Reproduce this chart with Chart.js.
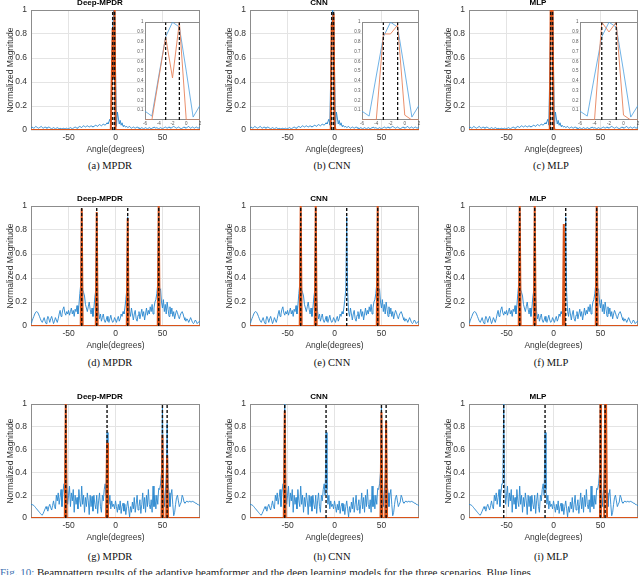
<!DOCTYPE html>
<html>
<head>
<meta charset="utf-8">
<script src="https://cdn.jsdelivr.net/npm/chart.js@4.4.1/dist/chart.umd.min.js"></script>
<style>
  html, body { margin: 0; padding: 0; background: #fff; }
  body { position: relative; width: 640px; height: 575px; overflow: hidden; }
  canvas { position: absolute; }
  .cap { position: absolute; width: 140px; margin-left: -70px; text-align: center;
         font: 10.5px "Liberation Serif", serif; color: #111; line-height: 12px; }
  .fig { position: absolute; left: 0; top: 566px; white-space: nowrap;
         font: 11px "Liberation Serif", serif; color: #222; }
  .fig b { color: #3b6fb0; font-weight: normal; }
</style>
</head>
<body>
<script>
// angle grid in degrees, shared by every beampattern
const angles = [];
for (let a = -90; a <= 90; a++) angles.push(a);

// blue curves (same in every column of a row), one value per degree, -90..90
const beamRow1 = [
  0.02, 0.025, 0.02, 0.015, 0.02, 0.03, 0.025, 0.02, 0.015, 0.02,
  0.025, 0.03, 0.02, 0.015, 0.02, 0.025, 0.02, 0.015, 0.02, 0.025,
  0.02, 0.015, 0.01, 0.015, 0.02, 0.015, 0.01, 0.015, 0.02, 0.015,
  0.01, 0.015, 0.01, 0.008, 0.012, 0.015, 0.01, 0.012, 0.015, 0.01,
  0.012, 0.015, 0.02, 0.015, 0.01, 0.015, 0.02, 0.025, 0.02, 0.015,
  0.02, 0.025, 0.03, 0.025, 0.02, 0.03, 0.035, 0.03, 0.025, 0.03,
  0.035, 0.03, 0.025, 0.03, 0.035, 0.03, 0.025, 0.03, 0.035, 0.04,
  0.035, 0.03, 0.04, 0.045, 0.04, 0.035, 0.04, 0.05, 0.045, 0.04,
  0.05, 0.06, 0.05, 0.07, 0.09, 0.04, 0.45, 0.85, 1.0, 0.95,
  0.5, 0.03, 0.15, 0.1, 0.05, 0.08, 0.04, 0.06, 0.03, 0.04,
  0.03, 0.025, 0.03, 0.02, 0.025, 0.03, 0.02, 0.015, 0.02, 0.025,
  0.02, 0.015, 0.02, 0.025, 0.02, 0.015, 0.01, 0.015, 0.02, 0.015,
  0.01, 0.015, 0.02, 0.015, 0.01, 0.015, 0.02, 0.015, 0.01, 0.015,
  0.02, 0.025, 0.02, 0.015, 0.02, 0.015, 0.01, 0.015, 0.02, 0.015,
  0.01, 0.015, 0.02, 0.025, 0.02, 0.015, 0.02, 0.025, 0.02, 0.015,
  0.02, 0.025, 0.03, 0.025, 0.02, 0.015, 0.02, 0.025, 0.02, 0.015,
  0.01, 0.015, 0.02, 0.025, 0.02, 0.015, 0.02, 0.025, 0.03, 0.02,
  0.015, 0.02, 0.025, 0.02, 0.015, 0.02, 0.025, 0.02, 0.015, 0.02, 0.025
];
const beamRow2 = [
  0.03, 0.04, 0.06, 0.08, 0.1, 0.115, 0.12, 0.115, 0.1, 0.08,
  0.06, 0.04, 0.03, 0.05, 0.07, 0.04, 0.02, 0.05, 0.08, 0.06,
  0.03, 0.06, 0.08, 0.05, 0.02, 0.04, 0.07, 0.05, 0.03, 0.06,
  0.1, 0.13, 0.08, 0.1, 0.14, 0.16, 0.11, 0.09, 0.12, 0.1,
  0.13, 0.09, 0.12, 0.15, 0.1, 0.13, 0.08, 0.14, 0.12, 0.17,
  0.1, 0.17, 0.27, 0.35, 0.95, 0.3, 0.28, 0.25, 0.18, 0.15,
  0.12, 0.16, 0.2, 0.14, 0.1, 0.15, 0.08, 0.15, 0.24, 0.3,
  0.92, 0.25, 0.12, 0.06, 0.1, 0.04, 0.07, 0.1, 0.05, 0.03,
  0.05, 0.08, 0.04, 0.03, 0.06, 0.09, 0.05, 0.03, 0.04, 0.07,
  0.05, 0.03, 0.06, 0.08, 0.04, 0.06, 0.1, 0.08, 0.12, 0.1,
  0.15, 0.22, 0.3, 0.91, 0.28, 0.12, 0.08, 0.15, 0.1, 0.05,
  0.1, 0.13, 0.06, 0.04, 0.09, 0.12, 0.06, 0.1, 0.14, 0.08,
  0.12, 0.05, 0.1, 0.15, 0.09, 0.13, 0.1, 0.16, 0.12, 0.18,
  0.1, 0.15, 0.2, 0.22, 0.27, 0.35, 1.0, 0.3, 0.31, 0.2,
  0.15, 0.22, 0.12, 0.18, 0.1, 0.2, 0.14, 0.08, 0.16, 0.1,
  0.15, 0.08, 0.12, 0.06, 0.1, 0.13, 0.11, 0.08, 0.06, 0.09,
  0.11, 0.12, 0.1, 0.07, 0.05, 0.04, 0.06, 0.05, 0.03, 0.05,
  0.07, 0.05, 0.03, 0.02, 0.03, 0.05, 0.04, 0.02, 0.03, 0.035, 0.04
];
const beamRow3 = [
  0.12, 0.12, 0.115, 0.11, 0.1, 0.09, 0.08, 0.07, 0.06, 0.05,
  0.04, 0.03, 0.025, 0.04, 0.06, 0.08, 0.1, 0.08, 0.06, 0.1,
  0.12, 0.09, 0.07, 0.11, 0.15, 0.1, 0.08, 0.2, 0.15, 0.22,
  0.12, 0.18, 0.25, 0.1, 0.22, 0.3, 0.3, 1.0, 0.3, 0.12,
  0.2, 0.28, 0.1, 0.22, 0.15, 0.25, 0.05, 0.2, 0.12, 0.18,
  0.08, 0.25, 0.15, 0.1, 0.28, 0.12, 0.2, 0.05, 0.18, 0.1,
  0.22, 0.15, 0.03, 0.2, 0.1, 0.19, 0.06, 0.2, 0.12, 0.08,
  0.2, 0.04, 0.15, 0.22, 0.1, 0.05, 0.2, 0.15, 0.25, 0.3,
  0.2, 0.75, 0.25, 0.12, 0.2, 0.08, 0.15, 0.1, 0.12, 0.08,
  0.15, 0.1, 0.05, 0.12, 0.07, 0.15, 0.04, 0.1, 0.13, 0.06,
  0.12, 0.03, 0.1, 0.15, 0.08, 0.01, 0.1, 0.05, 0.14, 0.08,
  0.18, 0.05, 0.12, 0.2, 0.07, 0.1, 0.16, 0.04, 0.12, 0.22,
  0.08, 0.18, 0.05, 0.2, 0.1, 0.25, 0.12, 0.08, 0.16, 0.05,
  0.28, 0.1, 0.2, 0.08, 0.2, 0.12, 0.26, 0.25, 0.3, 0.4,
  0.97, 0.3, 0.1, 0.2, 0.35, 0.83, 0.3, 0.22, 0.1, 0.2,
  0.25, 0.12, 0.02, 0.05, 0.12, 0.18, 0.2, 0.15, 0.1, 0.12,
  0.14, 0.2, 0.18, 0.14, 0.13, 0.14, 0.15, 0.14, 0.14, 0.15,
  0.14, 0.14, 0.15, 0.14, 0.14, 0.13, 0.13, 0.12, 0.12, 0.11, 0.11
];

// true source directions (black dashed)
const trueRow1 = [-3, -1];
const trueRow2 = [-36, -20, 13, 46];
const trueRow3 = [-53, -9, 50, 55];

// estimated spectra (orange), sparse angle / value pairs
const mpdr1X = [-90, -5, -3, -2, -1, 0, 90];
const mpdr1Y = [0, 0, 0.85, 0.43, 1, 0, 0];
const cnn1X = [-90, -4, -3, -2, -1, 0, 1, 90];
const cnn1Y = [0, 0, 0.88, 0.88, 0.97, 0.05, 0, 0];
const mlp1X = [-90, -4, -3, -2, -1, 0, 1, 90];
const mlp1Y = [0, 0, 1, 0.9, 1, 0.05, 0, 0];

const mpdr2X = [-90, -37, -36, -35, -21, -20, -19, 12, 13, 14, 45, 46, 47, 90];
const mpdr2Y = [0, 0, 0.98, 0, 0, 0.95, 0, 0, 0.9, 0, 0, 1, 0, 0];
const cnn2X = [-90, -37, -36, -35, -21, -20, -19, 45, 46, 47, 90];
const cnn2Y = [0, 0, 1, 0, 0, 1, 0, 0, 1, 0, 0];
const mlp2X = [-90, -37, -36, -35, -21, -20, -19, 10, 11, 12, 45, 46, 47, 90];
const mlp2Y = [0, 0, 1, 0, 0, 1, 0, 0, 0.85, 0, 0, 1, 0, 0];

const mpdr3X = [-90, -54, -53, -52, -10, -9, -8, 49, 50, 51, 54, 55, 56, 90];
const mpdr3Y = [0, 0, 1, 0, 0, 0.66, 0, 0, 0.73, 0, 0, 0.55, 0, 0];
const cnn3X = [-90, -54, -53, -52, 49, 50, 51, 54, 55, 56, 90];
const cnn3Y = [0, 0, 0.94, 0, 0, 0.93, 0, 0, 0.85, 0, 0];
const mlp3X = [-90, 49.5, 50, 50.5, 54, 55, 56, 57, 90];
const mlp3Y = [0, 0, 1, 0, 0, 1, 1, 0, 0];

const xTickVals = [-50, 0, 50];
const yTickVals = [0, 0.2, 0.4, 0.6, 0.8, 1];
const insetXTicks = [-6, -4, -2, 0, 2];
const insetYTicks = [0.1, 0.2, 0.3, 0.4, 0.5, 0.6, 0.7, 0.8, 0.9, 1];

const panelTitles = ['Deep-MPDR', 'CNN', 'MLP'];
const captions = [
  ['(a) MPDR', '(b) CNN', '(c) MLP'],
  ['(d) MPDR', '(e) CNN', '(f) MLP'],
  ['(g) MPDR', '(h) CNN', '(i) MLP']
];

const rows = [
  { beam: beamRow1, truth: trueRow1, est: [[mpdr1X, mpdr1Y], [cnn1X, cnn1Y], [mlp1X, mlp1Y]] },
  { beam: beamRow2, truth: trueRow2, est: [[mpdr2X, mpdr2Y], [cnn2X, cnn2Y], [mlp2X, mlp2Y]] },
  { beam: beamRow3, truth: trueRow3, est: [[mpdr3X, mpdr3Y], [cnn3X, cnn3Y], [mlp3X, mlp3Y]] }
];

// layout (pixels)
const colLeft = [31, 250, 469];
const plotW = 169;
const rowTop = [10, 206, 404];
const rowH = [120, 120, 114];
const capX = [110, 332, 551];
const capY = [166, 363, 557];
const insetLeft = [145, 362, 580];
const insetW = [55, 57, 58];
const insetTop = 22, insetH = 98;

const BLUE = '#2a88cf';
const ORANGE = '#D95319';
const FONT = '"Liberation Sans", Arial, sans-serif';
Chart.defaults.font.family = FONT;

const boxPlugin = {
  id: 'box',
  beforeDraw(chart, args, opts) {
    if (!opts.fill) return;
    const a = chart.chartArea, ctx = chart.ctx;
    ctx.save();
    ctx.fillStyle = opts.fill;
    ctx.fillRect(a.left, a.top, a.right - a.left, a.bottom - a.top);
    ctx.restore();
  },
  beforeDatasetsDraw(chart, args, opts) {
    const a = chart.chartArea, ctx = chart.ctx;
    ctx.save();
    ctx.strokeStyle = opts.color || '#8c8c8c';
    ctx.lineWidth = 1;
    ctx.strokeRect(Math.round(a.left) + 0.5, Math.round(a.top) + 0.5,
      Math.round(a.right - a.left) - 1, Math.round(a.bottom - a.top) - 1);
    ctx.restore();
  }
};

function pairs(xs, ys) {
  return xs.map((x, i) => ({ x: x, y: ys[i] }));
}

function buildDatasets(row, col, inset) {
  const r = rows[row];
  const ds = [];
  r.truth.forEach(a => ds.push({
    data: [{ x: a, y: 0 }, { x: a, y: 1 }],
    borderColor: '#111', borderWidth: inset ? 1.3 : 1.4, borderDash: [3, 2], order: 0
  }));
  ds.push({ data: pairs(r.est[col][0], r.est[col][1]), borderColor: inset ? '#e8825a' : ORANGE,
    borderWidth: inset ? 0.9 : 2, order: 1 });
  ds.push({ data: pairs(angles, r.beam), borderColor: inset ? '#4a9ee0' : BLUE,
    borderWidth: inset ? 0.8 : 0.9, order: 2 });
  return ds;
}

function fmt(v) {
  return String(Math.round(v * 10) / 10);
}

function makePanel(row, col) {
  const L = 31, T = 12, B = 26, R = 2;
  const cv = document.createElement('canvas');
  cv.width = L + plotW + R;
  cv.height = T + rowH[row] + B;
  cv.style.left = (colLeft[col] - L) + 'px';
  cv.style.top = (rowTop[row] - T) + 'px';
  document.body.appendChild(cv);

  new Chart(cv.getContext('2d'), {
    type: 'line',
    data: { datasets: buildDatasets(row, col, false) },
    plugins: [boxPlugin],
    options: {
      responsive: false,
      animation: false,
      devicePixelRatio: 1,
      layout: { padding: { top: 0, right: R, bottom: 0, left: 0 } },
      elements: { point: { radius: 0 }, line: { tension: 0, fill: false } },
      plugins: {
        legend: { display: false },
        tooltip: { enabled: false },
        box: { color: '#8c8c8c' },
        title: {
          display: true, text: panelTitles[col], color: '#000',
          font: { size: 8, weight: 'bold' }, padding: { top: 0, bottom: 2.4 }
        }
      },
      scales: {
        x: {
          type: 'linear', min: -90, max: 90,
          afterBuildTicks: s => { s.ticks = xTickVals.map(v => ({ value: v })); },
          afterFit: s => { s.height = B; },
          grid: { color: '#e4e4e4', lineWidth: 1, drawTicks: false },
          border: { display: false },
          ticks: { padding: 3, color: '#333', font: { size: 8.5 }, maxRotation: 0 },
          title: { display: true, text: 'Angle(degrees)', color: '#333',
            font: { size: 8.5 }, padding: { top: 0, bottom: 1.4 } }
        },
        y: {
          min: 0, max: 1,
          afterBuildTicks: s => { s.ticks = yTickVals.map(v => ({ value: v })); },
          afterFit: s => { s.width = L; },
          grid: { color: '#e4e4e4', lineWidth: 1, drawTicks: false },
          border: { display: false },
          ticks: { padding: 4, color: '#333', font: { size: 8.5 }, callback: fmt },
          title: { display: true, text: 'Normalized Magnitude', color: '#333',
            font: { size: 8.5 }, padding: { top: 5.9, bottom: 0 } }
        }
      }
    }
  });

  const cap = document.createElement('div');
  cap.className = 'cap';
  cap.textContent = captions[row][col];
  cap.style.left = capX[col] + 'px';
  cap.style.top = (capY[row] - 6) + 'px';
  document.body.appendChild(cap);
}

function makeInset(col) {
  const L = 9, T = 4, B = 8, R = 3;
  const cv = document.createElement('canvas');
  cv.width = L + insetW[col] + R;
  cv.height = T + insetH + B;
  cv.style.left = (insetLeft[col] - L) + 'px';
  cv.style.top = (insetTop - T) + 'px';
  document.body.appendChild(cv);

  new Chart(cv.getContext('2d'), {
    type: 'line',
    data: { datasets: buildDatasets(0, col, true) },
    plugins: [boxPlugin],
    options: {
      responsive: false,
      animation: false,
      devicePixelRatio: 1,
      layout: { padding: { top: T, right: R, bottom: 0, left: 0 } },
      elements: { point: { radius: 0 }, line: { tension: 0, fill: false } },
      plugins: {
        legend: { display: false },
        tooltip: { enabled: false },
        title: { display: false },
        box: { color: '#8c8c8c', fill: '#ffffff' }
      },
      scales: {
        x: {
          type: 'linear', min: -6, max: 2,
          afterBuildTicks: s => { s.ticks = insetXTicks.map(v => ({ value: v })); },
          afterFit: s => { s.height = B; },
          grid: { display: false, drawTicks: false },
          border: { display: false },
          ticks: { padding: 1.5, color: '#555', font: { size: 4.5 }, maxRotation: 0, autoSkip: false }
        },
        y: {
          min: 0, max: 1,
          afterBuildTicks: s => { s.ticks = insetYTicks.map(v => ({ value: v })); },
          afterFit: s => { s.width = L; },
          grid: { display: false, drawTicks: false },
          border: { display: false },
          ticks: { padding: 1.5, color: '#555', font: { size: 4.5 }, callback: fmt, autoSkip: false }
        }
      }
    }
  });
}

for (let r = 0; r < 3; r++) {
  for (let c = 0; c < 3; c++) makePanel(r, c);
}
for (let c = 0; c < 3; c++) makeInset(c);

const fig = document.createElement('div');
fig.className = 'fig';
fig.innerHTML = '<b>Fig. 10:</b> Beampattern results of the adaptive beamformer and the deep learning models for the three scenarios. Blue lines';
document.body.appendChild(fig);
</script>
</body>
</html>
